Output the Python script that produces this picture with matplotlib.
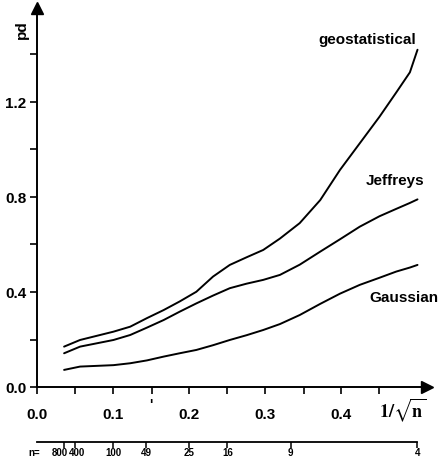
import matplotlib
matplotlib.use("Agg")
import matplotlib.pyplot as plt
import matplotlib.transforms as mtransforms
import numpy as np

plt.rcParams['font.family'] = ['Liberation Sans', 'DejaVu Sans']
plt.rcParams['mathtext.fontset'] = 'stix'

# data: x = 1/sqrt(n), y = pd
x_vals = [0.035, 0.056, 0.1, 0.122, 0.144, 0.166, 0.187, 0.209, 0.231, 0.253, 0.275,
          0.297, 0.319, 0.345, 0.372, 0.398, 0.424, 0.45, 0.472, 0.49, 0.5]
geostatistical = [0.17, 0.198, 0.233, 0.254, 0.29, 0.324, 0.36, 0.401, 0.465, 0.514, 0.546,
                  0.577, 0.625, 0.69, 0.787, 0.914, 1.026, 1.138, 1.24, 1.325, 1.42]
jeffreys = [0.142, 0.17, 0.198, 0.219, 0.25, 0.282, 0.317, 0.352, 0.385, 0.416, 0.435,
            0.451, 0.472, 0.515, 0.57, 0.622, 0.675, 0.719, 0.75, 0.775, 0.79]
gaussian = [0.072, 0.086, 0.092, 0.1, 0.112, 0.128, 0.142, 0.156, 0.176, 0.198, 0.218,
            0.24, 0.265, 0.303, 0.35, 0.393, 0.43, 0.46, 0.486, 0.503, 0.514]

series_labels = ["geostatistical", "Jeffreys", "Gaussian"]
x_ticks = [0.0, 0.1, 0.2, 0.3, 0.4]
y_ticks = [0.0, 0.4, 0.8, 1.2]
n_values = [800, 400, 100, 49, 25, 16, 9, 4]

W, H = 439, 469
fig = plt.figure(figsize=(W / 100, H / 100), dpi=100)

x0px, x1px = 37.5, 427
y0px, y1px = 387, 8
xscale = 760.0
yscale = 237.5
ax = fig.add_axes([x0px / W, (H - y0px) / H, (x1px - x0px) / W, (y0px - y1px) / H])
ax.set_xlim(0, (x1px - x0px) / xscale)
ax.set_ylim(0, (y0px - y1px) / yscale)
ax.patch.set_alpha(0)

for s in ['top', 'right']:
    ax.spines[s].set_visible(False)
for s in ['left', 'bottom']:
    ax.spines[s].set_linewidth(1.4)
ax.plot(1, 0, marker='>', color='black', markersize=9, transform=ax.transAxes, clip_on=False)
ax.plot(0, 1, marker='^', color='black', markersize=9, transform=ax.transAxes, clip_on=False)

ax.set_xticks(np.arange(0, 0.5, 0.05), minor=True)
ax.set_xticks(x_ticks)
ax.set_xticklabels([f"{v:.1f}" for v in x_ticks], fontsize=11, fontweight='bold')
ax.set_yticks(np.arange(0, 1.5, 0.2), minor=True)
ax.set_yticks(y_ticks)
ax.set_yticklabels([f"{v:.1f}" for v in y_ticks], fontsize=11, fontweight='bold')
ax.tick_params(which='both', direction='out', length=5, width=1.2, color='black')
ax.tick_params(axis='x', pad=10)
ax.tick_params(axis='y', pad=3)

for ys in (geostatistical, jeffreys, gaussian):
    ax.plot(x_vals, ys, color='black', lw=1.4, solid_capstyle='round', solid_joinstyle='round')

ax.text(0.498, 1.43, series_labels[0], ha='right', va='bottom', fontsize=11, fontweight='bold')
ax.text(0.432, 0.84, series_labels[1], ha='left', va='bottom', fontsize=11, fontweight='bold')
ax.text(0.437, 0.375, series_labels[2], ha='left', va='center', fontsize=11, fontweight='bold')

ax.text(0.48, -0.1, r'$\mathbf{1/\sqrt{n}}$', ha='center', va='center', fontsize=13,
        transform=ax.transData, clip_on=False)
ax.text(0.149, -0.075, "'", ha='center', va='center', fontsize=10, fontweight='bold', clip_on=False)

fig.text(22 / W, 1 - 30 / H, "pd", rotation=90, ha='center', va='center', fontsize=11, fontweight='bold')

# secondary n axis
ax2 = fig.add_axes([x0px / W, (H - 442) / H, (x1px - x0px) / W, 0.001])
ax2.set_xlim(ax.get_xlim())
ax2.patch.set_alpha(0)
for s in ['top', 'right', 'left']:
    ax2.spines[s].set_visible(False)
ax2.spines['bottom'].set_bounds(0, 0.5)
ax2.spines['bottom'].set_linewidth(1.3)
ax2.set_yticks([])
ax2.set_xticks([1 / np.sqrt(n) for n in n_values])
ax2.set_xticklabels([])
ax2.tick_params(axis='x', direction='out', length=4, width=1.1)
label_shift = {800: -5, 400: 2}
for n in n_values:
    tr = mtransforms.offset_copy(ax2.transData, fig=fig, x=label_shift.get(n, 0), y=-11, units='dots')
    ax2.text(1 / np.sqrt(n), 0, str(n), transform=tr, ha='center', va='center',
             fontsize=7, fontweight='bold', clip_on=False)
fig.text(34 / W, 1 - 453 / H, "n=", ha='center', va='center', fontsize=7, fontweight='bold')

fig.savefig("out.png", dpi=100)
